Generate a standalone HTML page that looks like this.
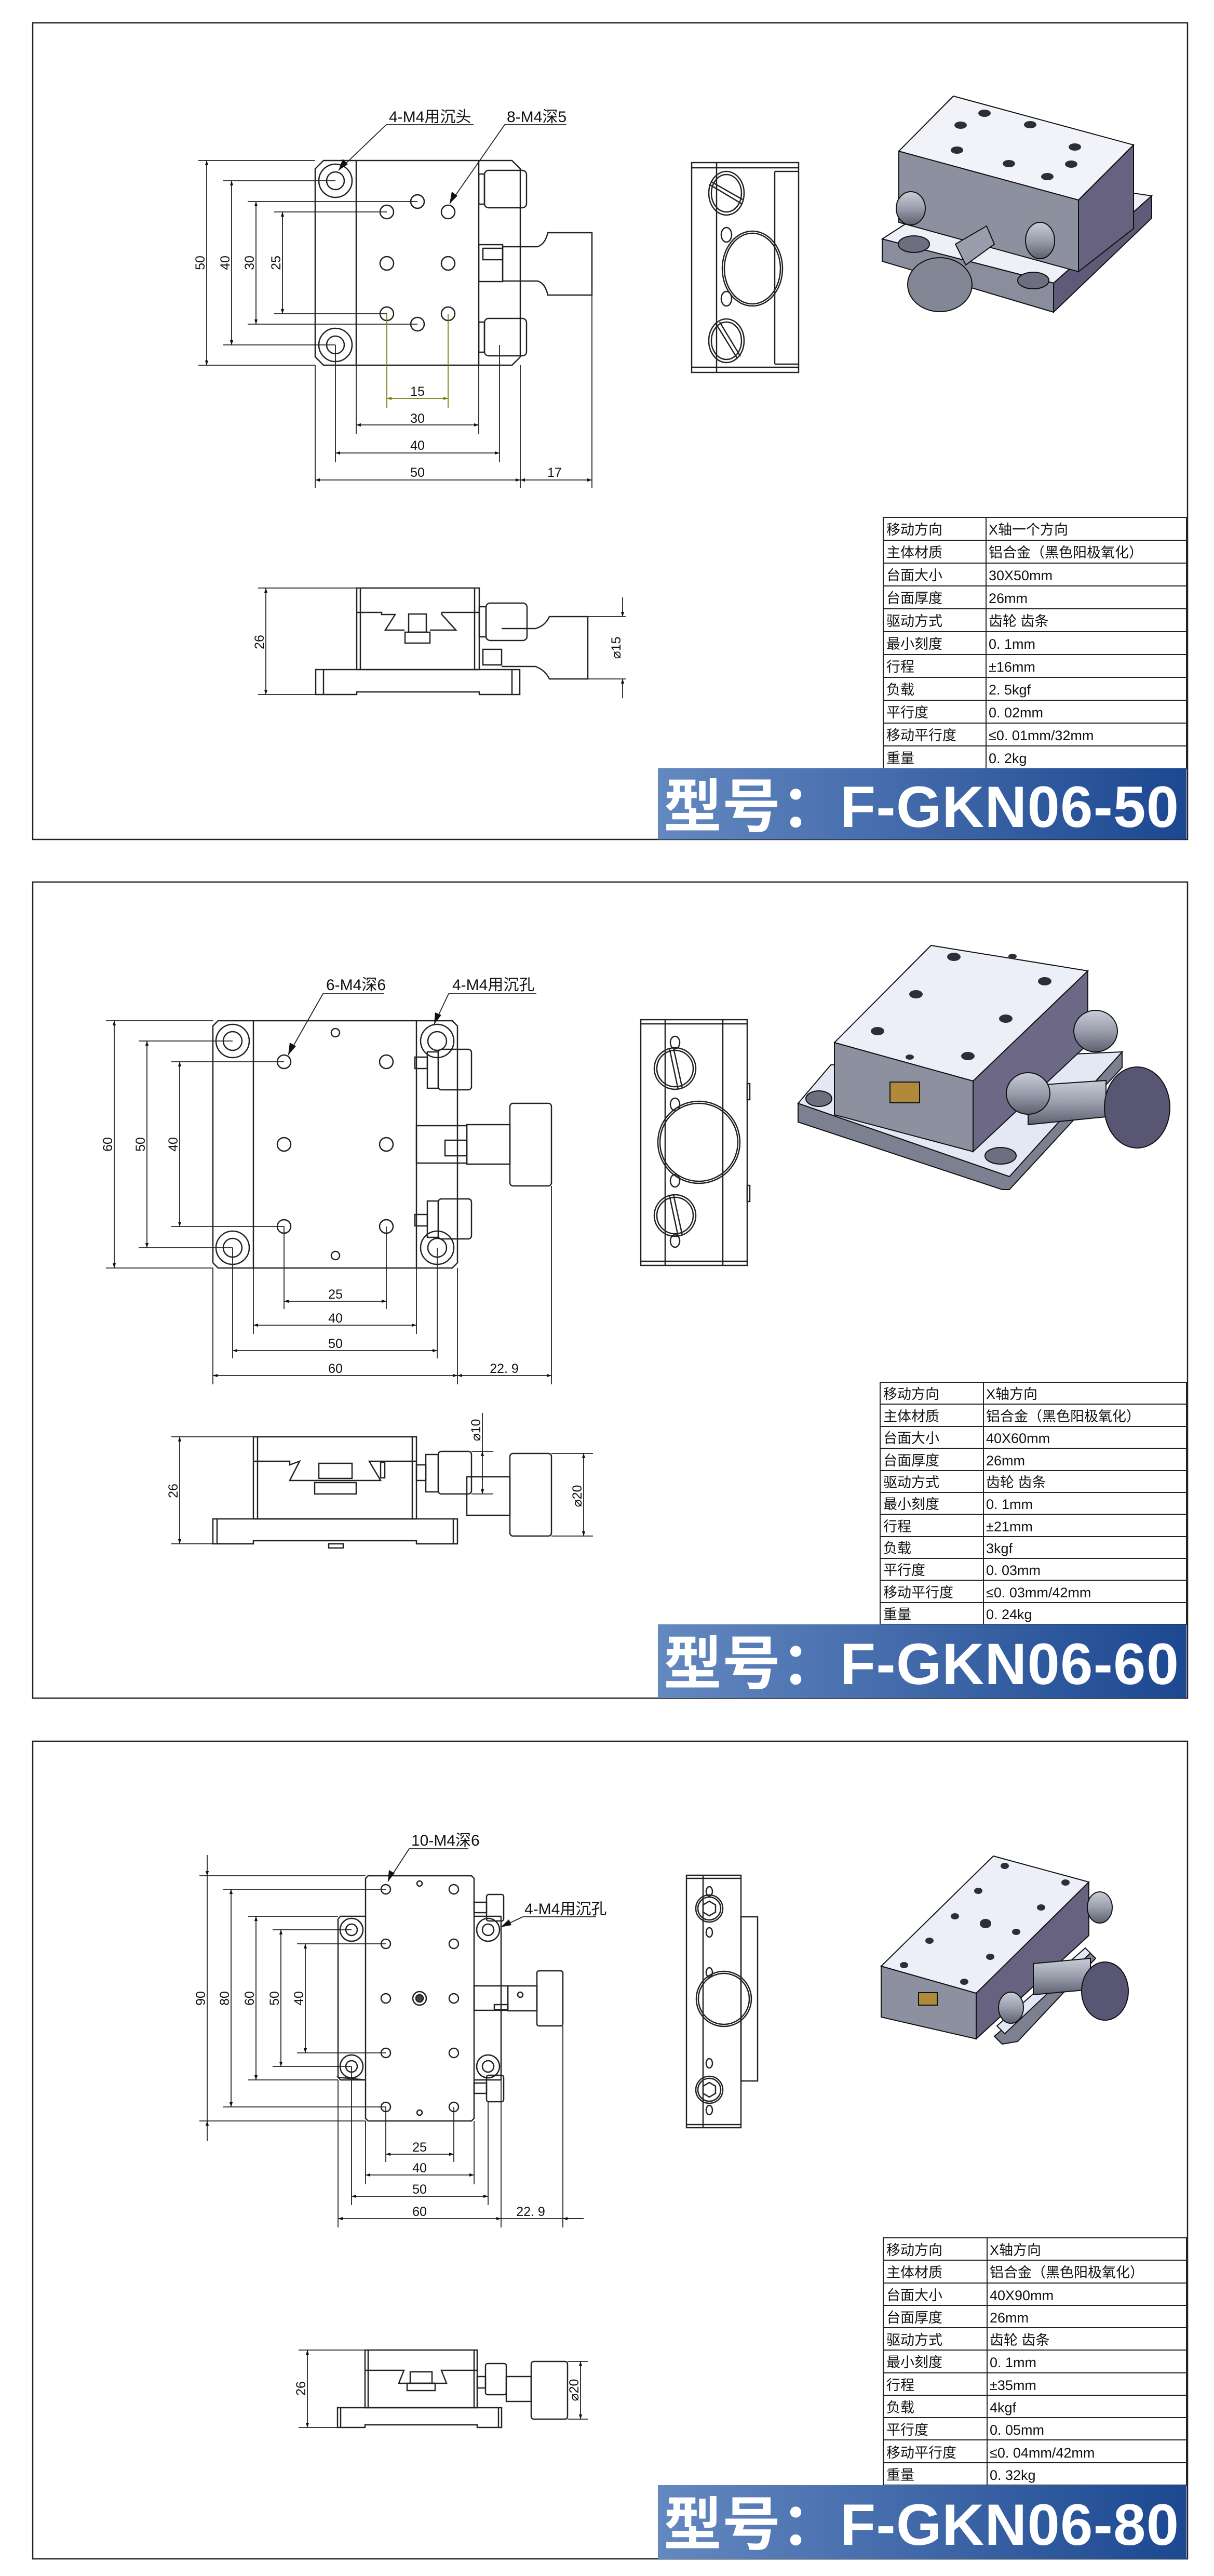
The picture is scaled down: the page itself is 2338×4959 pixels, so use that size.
<!DOCTYPE html>
<html><head><meta charset="utf-8"><style>
html,body{margin:0;padding:0;background:#fff}
svg{display:block}
text{font-family:"Liberation Sans","Noto Sans CJK SC",sans-serif}
.t{font-size:27px;fill:#111}
.d{font-size:25px;fill:#111}
.l{font-size:30px;fill:#111}
.b{font-size:112px;font-weight:bold;fill:#fff}
</style></head><body>
<svg width="2338" height="4959" viewBox="0 0 2338 4959" xmlns="http://www.w3.org/2000/svg">
<defs>
<marker id="a" viewBox="0 0 10 10" refX="10" refY="5" markerWidth="24" markerHeight="9" markerUnits="userSpaceOnUse" orient="auto-start-reverse"><path d="M0,1.5 L10,5 L0,8.5z" fill="#111"/></marker>
<marker id="o" viewBox="0 0 10 10" refX="10" refY="5" markerWidth="24" markerHeight="9" markerUnits="userSpaceOnUse" orient="auto-start-reverse"><path d="M0,1.5 L10,5 L0,8.5z" fill="#7a7a10"/></marker>
<linearGradient id="bg" x1="0" x2="1" y1="0" y2="0"><stop offset="0" stop-color="#6488c0"/><stop offset="1" stop-color="#1c4891"/></linearGradient>
<linearGradient id="kn" x1="0" x2="0" y1="0" y2="1"><stop offset="0" stop-color="#c8ccd6"/><stop offset="0.5" stop-color="#9a9eac"/><stop offset="1" stop-color="#5e6070"/></linearGradient>
</defs>
<g fill="none" stroke="#222" stroke-width="2.5">
<rect x="63" y="44" width="2224" height="1572"/>
<rect x="63" y="1698" width="2224" height="1571"/>
<rect x="63" y="3352" width="2224" height="1574"/>
</g>

<!-- ===================== PANEL 1 ===================== -->
<g fill="none" stroke="#222" stroke-width="2.5">
<path d="M607,325 L623,309 L986,309 L1002,325 L1002,687 L986,703 L623,703 L607,687 Z"/>
<line x1="686" y1="309" x2="686" y2="703"/><line x1="922" y1="309" x2="922" y2="703"/>
<circle cx="646" cy="348" r="32"/><circle cx="646" cy="348" r="17"/>
<circle cx="646" cy="664" r="32"/><circle cx="646" cy="664" r="17"/>
<circle cx="804" cy="388" r="13"/><circle cx="745" cy="408" r="13"/><circle cx="863" cy="408" r="13"/>
<circle cx="745" cy="507" r="13"/><circle cx="863" cy="507" r="13"/>
<circle cx="745" cy="604" r="13"/><circle cx="863" cy="604" r="13"/><circle cx="804" cy="624" r="13"/>
<rect x="922" y="335" width="11" height="58"/><rect x="933" y="328" width="81" height="72" rx="8"/>
<rect x="922" y="620" width="11" height="58"/><rect x="933" y="613" width="81" height="72" rx="8"/>
<rect x="922" y="471" width="46" height="71"/><rect x="930" y="478" width="38" height="22"/>
<path d="M968,475 L1035,475 Q1050,470 1055,448 L1140,448 L1140,568 L1055,568 Q1050,545 1035,541 L968,541 Z"/>
</g>
<g stroke="#222" stroke-width="1.8" fill="none">
<line x1="382" y1="309" x2="607" y2="309"/><line x1="382" y1="703" x2="607" y2="703"/>
<line x1="430" y1="348" x2="646" y2="348"/><line x1="430" y1="664" x2="646" y2="664"/>
<line x1="477" y1="388" x2="804" y2="388"/><line x1="477" y1="624" x2="804" y2="624"/>
<line x1="528" y1="408" x2="745" y2="408"/><line x1="528" y1="604" x2="745" y2="604"/>
<line x1="398" y1="309" x2="398" y2="703" marker-start="url(#a)" marker-end="url(#a)"/>
<line x1="446" y1="348" x2="446" y2="664" marker-start="url(#a)" marker-end="url(#a)"/>
<line x1="493" y1="388" x2="493" y2="624" marker-start="url(#a)" marker-end="url(#a)"/>
<line x1="544" y1="408" x2="544" y2="604" marker-start="url(#a)" marker-end="url(#a)"/>
<line x1="607" y1="703" x2="607" y2="940"/><line x1="1002" y1="703" x2="1002" y2="940"/>
<line x1="646" y1="664" x2="646" y2="890"/><line x1="962" y1="664" x2="962" y2="890"/>
<line x1="686" y1="703" x2="686" y2="835"/><line x1="922" y1="703" x2="922" y2="835"/>
<line x1="1140" y1="568" x2="1140" y2="940"/>
<line x1="607" y1="924" x2="1002" y2="924" marker-start="url(#a)" marker-end="url(#a)"/>
<line x1="646" y1="872" x2="962" y2="872" marker-start="url(#a)" marker-end="url(#a)"/>
<line x1="686" y1="818" x2="922" y2="818" marker-start="url(#a)" marker-end="url(#a)"/>
<line x1="1002" y1="924" x2="1140" y2="924" marker-start="url(#a)" marker-end="url(#a)"/>
<g stroke="#7a7a10"><line x1="745" y1="604" x2="745" y2="785"/><line x1="863" y1="604" x2="863" y2="785"/>
<line x1="745" y1="767" x2="863" y2="767" marker-start="url(#o)" marker-end="url(#o)"/></g>
<polyline points="912,240 744,240 652,328"/><polyline points="1091,240 972,240 866,392"/>
</g>
<path d="M652,328 l8,-22 l10,10z" fill="#111"/><path d="M866,392 l4,-23 l11,8z" fill="#111"/>
<g class="d">
<text transform="translate(394,506) rotate(-90)" text-anchor="middle">50</text>
<text transform="translate(442,506) rotate(-90)" text-anchor="middle">40</text>
<text transform="translate(489,506) rotate(-90)" text-anchor="middle">30</text>
<text transform="translate(540,506) rotate(-90)" text-anchor="middle">25</text>
<text x="804" y="762" text-anchor="middle">15</text>
<text x="804" y="814" text-anchor="middle">30</text>
<text x="804" y="866" text-anchor="middle">40</text>
<text x="804" y="918" text-anchor="middle">50</text>
<text x="1068" y="918" text-anchor="middle">17</text>
</g>
<text class="l" x="749" y="235">4-M4用沉头</text>
<text class="l" x="976" y="235">8-M4深5</text>

<g fill="none" stroke="#222" stroke-width="2.5">
<rect x="687" y="1132" width="236" height="157"/>
<line x1="694" y1="1132" x2="694" y2="1289"/><line x1="914" y1="1132" x2="914" y2="1289"/>
<path d="M608,1289 H1001 V1337 H923 V1332 H687 V1337 H608 Z"/>
<line x1="623" y1="1289" x2="623" y2="1337"/><line x1="986" y1="1289" x2="986" y2="1337"/>
<path d="M687,1179 H735 V1183 H761 L742,1213 H779 M828,1213 H878 L851,1183 V1179 H923"/>
<rect x="787" y="1182" width="34" height="35"/><rect x="780" y="1217" width="48" height="21"/>
<rect x="923" y="1168" width="13" height="58"/><rect x="936" y="1161" width="79" height="72" rx="8"/>
<rect x="930" y="1250" width="36" height="30"/>
<path d="M966,1210 H1031 Q1050,1205 1058,1187 H1132 V1307 H1058 Q1050,1290 1031,1283 H966"/>
</g>
<g stroke="#222" stroke-width="1.8" fill="none">
<line x1="497" y1="1132" x2="687" y2="1132"/><line x1="497" y1="1337" x2="608" y2="1337"/>
<line x1="512" y1="1132" x2="512" y2="1337" marker-start="url(#a)" marker-end="url(#a)"/>
<line x1="1132" y1="1187" x2="1205" y2="1187"/><line x1="1132" y1="1307" x2="1205" y2="1307"/>
<line x1="1199" y1="1150" x2="1199" y2="1187" marker-end="url(#a)"/><line x1="1199" y1="1344" x2="1199" y2="1307" marker-end="url(#a)"/>
</g>
<text class="d" transform="translate(508,1236) rotate(-90)" text-anchor="middle">26</text>
<text class="d" transform="translate(1195,1247) rotate(-90)" text-anchor="middle">⌀15</text>

<g fill="none" stroke="#222" stroke-width="2.5">
<rect x="1332" y="313" width="206" height="404"/>
<line x1="1380" y1="313" x2="1380" y2="717"/><line x1="1492" y1="330" x2="1492" y2="701"/>
<line x1="1332" y1="323" x2="1538" y2="323"/><line x1="1492" y1="330" x2="1538" y2="330"/>
<line x1="1332" y1="707" x2="1538" y2="707"/><line x1="1492" y1="701" x2="1538" y2="701"/>
<ellipse cx="1449" cy="517" rx="58" ry="72"/><ellipse cx="1449" cy="517" rx="54" ry="68"/>
<ellipse cx="1399" cy="372" rx="34" ry="42"/><ellipse cx="1399" cy="372" rx="29" ry="36"/>
<line x1="1366" y1="355" x2="1428" y2="392"/><line x1="1370" y1="350" x2="1430" y2="384"/>
<ellipse cx="1399" cy="656" rx="34" ry="42"/><ellipse cx="1399" cy="656" rx="29" ry="36"/>
<line x1="1378" y1="622" x2="1420" y2="690"/><line x1="1386" y1="620" x2="1426" y2="686"/>
<ellipse cx="1399" cy="452" rx="10" ry="14"/><ellipse cx="1399" cy="575" rx="10" ry="14"/>
</g>
<!-- p1 3D -->
<g stroke="#111" stroke-width="2">
<path d="M1699,460 L1900,330 L2218,377 L2029,545 Z" fill="#eef0f7"/>
<path d="M1699,460 L2029,545 L2029,601 L1699,503 Z" fill="#8a8d9c"/>
<path d="M2029,545 L2218,377 L2218,420 L2029,601 Z" fill="#5e5a78"/>
<ellipse cx="1760" cy="470" rx="30" ry="16" fill="#6d6e80"/><ellipse cx="1990" cy="540" rx="30" ry="16" fill="#6d6e80"/>
<path d="M1731,291 L2077,385 L2077,523 L1731,428 Z" fill="#8c909f"/>
<path d="M2077,385 L2183,279 L2183,440 L2077,523 Z" fill="#66627f"/>
<path d="M1836,185 L2183,279 L2077,385 L1731,291 Z" fill="#f2f3f8"/>
<ellipse cx="1754" cy="401" rx="28" ry="32" fill="url(#kn)"/>
<ellipse cx="2003" cy="463" rx="28" ry="35" fill="url(#kn)"/>
<path d="M1840,470 L1900,435 L1915,470 L1860,510 Z" fill="#9a9eac"/>
<ellipse cx="1810" cy="548" rx="62" ry="52" fill="#838694"/>
</g>
<g fill="#2c2e38">
<ellipse cx="1896" cy="218" rx="12" ry="7"/><ellipse cx="1850" cy="241" rx="12" ry="7"/><ellipse cx="1984" cy="240" rx="12" ry="7"/>
<ellipse cx="1843" cy="289" rx="12" ry="7"/><ellipse cx="2070" cy="283" rx="12" ry="7"/><ellipse cx="1943" cy="315" rx="12" ry="7"/>
<ellipse cx="2063" cy="316" rx="12" ry="7"/><ellipse cx="2017" cy="340" rx="12" ry="7"/>
</g>

<g stroke="#222" stroke-width="2" fill="none">
<rect x="1701" y="996" width="584" height="484"/>
<line x1="1899" y1="996" x2="1899" y2="1480"/>
<line x1="1701" y1="1040" x2="2285" y2="1040"/><line x1="1701" y1="1084" x2="2285" y2="1084"/><line x1="1701" y1="1128" x2="2285" y2="1128"/><line x1="1701" y1="1172" x2="2285" y2="1172"/><line x1="1701" y1="1216" x2="2285" y2="1216"/><line x1="1701" y1="1260" x2="2285" y2="1260"/><line x1="1701" y1="1304" x2="2285" y2="1304"/><line x1="1701" y1="1348" x2="2285" y2="1348"/><line x1="1701" y1="1392" x2="2285" y2="1392"/><line x1="1701" y1="1436" x2="2285" y2="1436"/>
</g>
<g class="t">
<text x="1707" y="1029">移动方向</text><text x="1904" y="1029">X轴一个方向</text>
<text x="1707" y="1073">主体材质</text><text x="1904" y="1073">铝合金（黑色阳极氧化）</text>
<text x="1707" y="1117">台面大小</text><text x="1904" y="1117">30X50mm</text>
<text x="1707" y="1161">台面厚度</text><text x="1904" y="1161">26mm</text>
<text x="1707" y="1205">驱动方式</text><text x="1904" y="1205">齿轮 齿条</text>
<text x="1707" y="1249">最小刻度</text><text x="1904" y="1249">0. 1mm</text>
<text x="1707" y="1293">行程</text><text x="1904" y="1293">±16mm</text>
<text x="1707" y="1337">负载</text><text x="1904" y="1337">2. 5kgf</text>
<text x="1707" y="1381">平行度</text><text x="1904" y="1381">0. 02mm</text>
<text x="1707" y="1425">移动平行度</text><text x="1904" y="1425">≤0. 01mm/32mm</text>
<text x="1707" y="1469">重量</text><text x="1904" y="1469">0. 2kg</text>
</g>
<rect x="1267" y="1479" width="1018" height="137" fill="url(#bg)"/>
<text class="b" x="1278" y="1592" textLength="992" lengthAdjust="spacing">型号：F-GKN06-50</text>

<!-- ===================== PANEL 2 ===================== -->
<g fill="none" stroke="#222" stroke-width="2.5">
<path d="M410,1975 L420,1965 L871,1965 L881,1975 L881,2431 L871,2441 L420,2441 L410,2431 Z"/>
<line x1="488" y1="1965" x2="488" y2="2441"/><line x1="802" y1="1965" x2="802" y2="2441"/>
<circle cx="448" cy="2004" r="32"/><circle cx="448" cy="2004" r="18"/>
<circle cx="448" cy="2402" r="32"/><circle cx="448" cy="2402" r="18"/>
<circle cx="842" cy="2004" r="32"/><circle cx="842" cy="2004" r="18"/>
<circle cx="842" cy="2402" r="32"/><circle cx="842" cy="2402" r="18"/>
<circle cx="547" cy="2044" r="13"/><circle cx="744" cy="2044" r="13"/>
<circle cx="547" cy="2203" r="13"/><circle cx="744" cy="2203" r="13"/>
<circle cx="547" cy="2361" r="13"/><circle cx="744" cy="2361" r="13"/>
<circle cx="646" cy="1988" r="8"/><circle cx="646" cy="2417" r="8"/>
<rect x="799" y="2035" width="24" height="22"/><rect x="823" y="2025" width="21" height="70"/><rect x="844" y="2020" width="64" height="78" rx="6"/>
<rect x="799" y="2338" width="24" height="22"/><rect x="823" y="2312" width="21" height="70"/><rect x="844" y="2308" width="64" height="77" rx="6"/>
<rect x="802" y="2167" width="97" height="72"/><rect x="857" y="2195" width="42" height="30"/>
<rect x="899" y="2165" width="83" height="76"/>
<rect x="982" y="2124" width="80" height="159" rx="6"/>
</g>
<g stroke="#222" stroke-width="1.8" fill="none">
<line x1="204" y1="1965" x2="410" y2="1965"/><line x1="204" y1="2441" x2="410" y2="2441"/>
<line x1="267" y1="2004" x2="448" y2="2004"/><line x1="267" y1="2402" x2="448" y2="2402"/>
<line x1="330" y1="2044" x2="547" y2="2044"/><line x1="330" y1="2361" x2="547" y2="2361"/>
<line x1="220" y1="1965" x2="220" y2="2441" marker-start="url(#a)" marker-end="url(#a)"/>
<line x1="283" y1="2004" x2="283" y2="2402" marker-start="url(#a)" marker-end="url(#a)"/>
<line x1="346" y1="2044" x2="346" y2="2361" marker-start="url(#a)" marker-end="url(#a)"/>
<line x1="410" y1="2441" x2="410" y2="2665"/><line x1="881" y1="2441" x2="881" y2="2665"/>
<line x1="448" y1="2402" x2="448" y2="2615"/><line x1="842" y1="2402" x2="842" y2="2615"/>
<line x1="488" y1="2441" x2="488" y2="2568"/><line x1="802" y1="2441" x2="802" y2="2568"/>
<line x1="547" y1="2361" x2="547" y2="2520"/><line x1="744" y1="2361" x2="744" y2="2520"/>
<line x1="1062" y1="2283" x2="1062" y2="2665"/>
<line x1="547" y1="2505" x2="744" y2="2505" marker-start="url(#a)" marker-end="url(#a)"/>
<line x1="488" y1="2551" x2="802" y2="2551" marker-start="url(#a)" marker-end="url(#a)"/>
<line x1="448" y1="2600" x2="842" y2="2600" marker-start="url(#a)" marker-end="url(#a)"/>
<line x1="410" y1="2648" x2="881" y2="2648" marker-start="url(#a)" marker-end="url(#a)"/>
<line x1="881" y1="2648" x2="1062" y2="2648" marker-start="url(#a)" marker-end="url(#a)"/>
<polyline points="740,1913 622,1913 555,2031"/><polyline points="1033,1913 864,1913 836,1972"/>
</g>
<path d="M555,2031 l3,-24 l12,7z" fill="#111"/><path d="M836,1972 l2,-23 l12,5z" fill="#111"/>
<g class="d">
<text transform="translate(216,2203) rotate(-90)" text-anchor="middle">60</text>
<text transform="translate(279,2203) rotate(-90)" text-anchor="middle">50</text>
<text transform="translate(342,2203) rotate(-90)" text-anchor="middle">40</text>
<text x="646" y="2500" text-anchor="middle">25</text>
<text x="646" y="2546" text-anchor="middle">40</text>
<text x="646" y="2595" text-anchor="middle">50</text>
<text x="646" y="2643" text-anchor="middle">60</text>
<text x="971" y="2643" text-anchor="middle">22. 9</text>
</g>
<text class="l" x="628" y="1906">6-M4深6</text>
<text class="l" x="871" y="1906">4-M4用沉孔</text>

<g fill="none" stroke="#222" stroke-width="2.5">
<rect x="488" y="2766" width="314" height="158"/>
<line x1="496" y1="2766" x2="496" y2="2924"/><line x1="794" y1="2766" x2="794" y2="2924"/>
<path d="M410,2924 H881 V2972 H802 V2966 H488 V2972 H410 Z"/>
<line x1="418" y1="2924" x2="418" y2="2972"/><line x1="873" y1="2924" x2="873" y2="2972"/>
<path d="M488,2813 H558 L558,2820 L577,2813 L558,2850 H733 L711,2813 H802"/>
<rect x="614" y="2817" width="64" height="29"/><rect x="606" y="2854" width="80" height="22"/>
<rect x="733" y="2815" width="8" height="30"/>
<rect x="802" y="2820" width="18" height="30"/><rect x="820" y="2800" width="24" height="72"/>
<rect x="844" y="2794" width="64" height="82" rx="6"/>
<rect x="899" y="2843" width="83" height="74"/>
<rect x="982" y="2798" width="80" height="159" rx="6"/>
<rect x="633" y="2972" width="28" height="8"/>
</g>
<g stroke="#222" stroke-width="1.8" fill="none">
<line x1="330" y1="2766" x2="488" y2="2766"/><line x1="330" y1="2972" x2="410" y2="2972"/>
<line x1="346" y1="2766" x2="346" y2="2972" marker-start="url(#a)" marker-end="url(#a)"/>
<line x1="908" y1="2794" x2="950" y2="2794"/><line x1="908" y1="2876" x2="950" y2="2876"/>
<line x1="929" y1="2794" x2="929" y2="2876" marker-start="url(#a)" marker-end="url(#a)"/>
<line x1="929" y1="2720" x2="929" y2="2794"/>
<line x1="1062" y1="2798" x2="1142" y2="2798"/><line x1="1062" y1="2957" x2="1142" y2="2957"/>
<line x1="1124" y1="2798" x2="1124" y2="2957" marker-start="url(#a)" marker-end="url(#a)"/>
</g>
<text class="d" transform="translate(342,2870) rotate(-90)" text-anchor="middle">26</text>
<text class="d" transform="translate(925,2753) rotate(-90)" text-anchor="middle">⌀10</text>
<text class="d" transform="translate(1120,2880) rotate(-90)" text-anchor="middle">⌀20</text>

<g fill="none" stroke="#222" stroke-width="2.5">
<rect x="1234" y="1963" width="205" height="473"/>
<line x1="1281" y1="1963" x2="1281" y2="2436"/><line x1="1392" y1="1963" x2="1392" y2="2436"/>
<line x1="1234" y1="1971" x2="1439" y2="1971"/><line x1="1234" y1="2428" x2="1439" y2="2428"/>
<circle cx="1346" cy="2199" r="79"/><circle cx="1346" cy="2199" r="75"/>
<circle cx="1300" cy="2057" r="40"/><circle cx="1300" cy="2057" r="35"/>
<line x1="1289" y1="2017" x2="1306" y2="2097"/><line x1="1297" y1="2017" x2="1314" y2="2095"/>
<circle cx="1300" cy="2340" r="40"/><circle cx="1300" cy="2340" r="35"/>
<line x1="1289" y1="2300" x2="1306" y2="2380"/><line x1="1297" y1="2300" x2="1314" y2="2378"/>
<ellipse cx="1300" cy="2007" rx="9" ry="12"/><ellipse cx="1300" cy="2389" rx="9" ry="12"/>
<ellipse cx="1300" cy="2126" rx="9" ry="12"/><ellipse cx="1300" cy="2273" rx="9" ry="12"/>
<rect x="1439" y="2086" width="5" height="31"/><rect x="1439" y="2282" width="5" height="31"/>
</g>
<g stroke="#111" stroke-width="2">
<path d="M1537,2124 L1537,2160 L1930,2290 L1944,2290 L2161,2055 L2161,2025 L1944,2265 L1537,2124 Z" fill="#7d8090"/>
<path d="M1537,2124 L1600,2050 L2161,2025 L1944,2265 Z" fill="#e4e8f4"/>
<path d="M1607,2007 L1874,2081 L1874,2217 L1607,2146 Z" fill="#8c909f"/>
<path d="M1874,2081 L2095,1869 L2095,2010 L1874,2217 Z" fill="#6c6886"/>
<path d="M1793,1820 L2095,1869 L1874,2081 L1607,2007 Z" fill="#eceef8"/>
<rect x="1714" y="2083" width="57" height="40" fill="#b08a3a"/>
<path d="M1980,2090 L2130,2080 L2130,2150 L1980,2165 Z" fill="url(#kn)"/>
<ellipse cx="2110" cy="1985" rx="42" ry="40" fill="url(#kn)"/>
<ellipse cx="1980" cy="2105" rx="42" ry="40" fill="url(#kn)"/>
<ellipse cx="2190" cy="2132" rx="63" ry="78" fill="#585672"/>
<ellipse cx="1927" cy="2225" rx="30" ry="16" fill="#6d6e80"/><ellipse cx="1577" cy="2115" rx="25" ry="15" fill="#6d6e80"/>
</g>
<g fill="#2c2e38">
<ellipse cx="1837" cy="1842" rx="13" ry="8"/><ellipse cx="1950" cy="1841" rx="8" ry="5"/><ellipse cx="2012" cy="1889" rx="13" ry="8"/>
<ellipse cx="1764" cy="1914" rx="13" ry="8"/><ellipse cx="1937" cy="1961" rx="13" ry="8"/><ellipse cx="1690" cy="1985" rx="13" ry="8"/>
<ellipse cx="1864" cy="2033" rx="13" ry="8"/><ellipse cx="1752" cy="2035" rx="8" ry="5"/>
</g>

<g stroke="#222" stroke-width="2" fill="none">
<rect x="1695" y="2661" width="590" height="466"/>
<line x1="1894" y1="2661" x2="1894" y2="3127"/>
<line x1="1695" y1="2703" x2="2285" y2="2703"/><line x1="1695" y1="2746" x2="2285" y2="2746"/><line x1="1695" y1="2788" x2="2285" y2="2788"/><line x1="1695" y1="2831" x2="2285" y2="2831"/><line x1="1695" y1="2873" x2="2285" y2="2873"/><line x1="1695" y1="2915" x2="2285" y2="2915"/><line x1="1695" y1="2958" x2="2285" y2="2958"/><line x1="1695" y1="3000" x2="2285" y2="3000"/><line x1="1695" y1="3042" x2="2285" y2="3042"/><line x1="1695" y1="3085" x2="2285" y2="3085"/>
</g>
<g class="t">
<text x="1701" y="2693">移动方向</text><text x="1899" y="2693">X轴方向</text>
<text x="1701" y="2736">主体材质</text><text x="1899" y="2736">铝合金（黑色阳极氧化）</text>
<text x="1701" y="2778">台面大小</text><text x="1899" y="2778">40X60mm</text>
<text x="1701" y="2821">台面厚度</text><text x="1899" y="2821">26mm</text>
<text x="1701" y="2863">驱动方式</text><text x="1899" y="2863">齿轮 齿条</text>
<text x="1701" y="2905">最小刻度</text><text x="1899" y="2905">0. 1mm</text>
<text x="1701" y="2948">行程</text><text x="1899" y="2948">±21mm</text>
<text x="1701" y="2990">负载</text><text x="1899" y="2990">3kgf</text>
<text x="1701" y="3032">平行度</text><text x="1899" y="3032">0. 03mm</text>
<text x="1701" y="3075">移动平行度</text><text x="1899" y="3075">≤0. 03mm/42mm</text>
<text x="1701" y="3117">重量</text><text x="1899" y="3117">0. 24kg</text>
</g>
<rect x="1267" y="3127" width="1018" height="142" fill="url(#bg)"/>
<text class="b" x="1278" y="3242" textLength="992" lengthAdjust="spacing">型号：F-GKN06-60</text>

<!-- ===================== PANEL 3 ===================== -->
<g fill="none" stroke="#222" stroke-width="2.5">
<path d="M651,3694 L656,3689 L704,3689 M704,4004 L656,4004 L651,3999 Z M651,3694 L651,3999"/>
<path d="M704,3616 L709,3611 L908,3611 L913,3616 L913,4078 L908,4083 L709,4083 L704,4078 Z"/>
<line x1="913" y1="3689" x2="965" y2="3689"/><line x1="965" y1="3689" x2="965" y2="4004"/><line x1="913" y1="4004" x2="965" y2="4004"/>
<circle cx="677" cy="3715" r="22"/><circle cx="677" cy="3715" r="11"/>
<circle cx="677" cy="3978" r="22"/><circle cx="677" cy="3978" r="11"/>
<circle cx="940" cy="3715" r="22"/><circle cx="940" cy="3715" r="11"/>
<circle cx="940" cy="3978" r="22"/><circle cx="940" cy="3978" r="11"/>
<circle cx="743" cy="3637" r="9"/><circle cx="874" cy="3637" r="9"/>
<circle cx="743" cy="3742" r="9"/><circle cx="874" cy="3742" r="9"/>
<circle cx="743" cy="3847" r="9"/><circle cx="874" cy="3847" r="9"/>
<circle cx="743" cy="3952" r="9"/><circle cx="874" cy="3952" r="9"/>
<circle cx="743" cy="4056" r="9"/><circle cx="874" cy="4056" r="9"/>
<circle cx="808" cy="3626" r="5"/><circle cx="808" cy="4067" r="5"/>
<circle cx="808" cy="3847" r="13"/><circle cx="808" cy="3847" r="7" fill="#444"/>
<rect x="913" y="3662" width="24" height="20"/><rect x="937" y="3647" width="33" height="51" rx="4"/>
<rect x="913" y="4010" width="24" height="20"/><rect x="937" y="3995" width="33" height="51" rx="4"/>
<rect x="913" y="3823" width="65" height="47"/><rect x="952" y="3859" width="26" height="10"/>
<rect x="978" y="3823" width="56" height="48"/><circle cx="1002" cy="3840" r="5"/>
<rect x="1034" y="3794" width="50" height="106" rx="4"/>
</g>
<g stroke="#222" stroke-width="1.8" fill="none">
<line x1="384" y1="3611" x2="704" y2="3611"/><line x1="384" y1="4083" x2="704" y2="4083"/>
<line x1="430" y1="3637" x2="743" y2="3637"/><line x1="430" y1="4056" x2="743" y2="4056"/>
<line x1="478" y1="3689" x2="651" y2="3689"/><line x1="478" y1="4004" x2="651" y2="4004"/>
<line x1="525" y1="3715" x2="677" y2="3715"/><line x1="525" y1="3978" x2="677" y2="3978"/>
<line x1="572" y1="3742" x2="743" y2="3742"/><line x1="572" y1="3952" x2="743" y2="3952"/>
<line x1="399" y1="3571" x2="399" y2="3611" marker-end="url(#a)"/><line x1="399" y1="4122" x2="399" y2="4083" marker-end="url(#a)"/>
<line x1="399" y1="3611" x2="399" y2="4083"/>
<line x1="445" y1="3637" x2="445" y2="4056" marker-start="url(#a)" marker-end="url(#a)"/>
<line x1="493" y1="3689" x2="493" y2="4004" marker-start="url(#a)" marker-end="url(#a)"/>
<line x1="541" y1="3715" x2="541" y2="3978" marker-start="url(#a)" marker-end="url(#a)"/>
<line x1="588" y1="3742" x2="588" y2="3952" marker-start="url(#a)" marker-end="url(#a)"/>
<line x1="651" y1="4004" x2="651" y2="4288"/><line x1="965" y1="4004" x2="965" y2="4288"/>
<line x1="677" y1="3978" x2="677" y2="4245"/><line x1="940" y1="4046" x2="940" y2="4245"/>
<line x1="704" y1="4083" x2="704" y2="4205"/><line x1="913" y1="4083" x2="913" y2="4205"/>
<line x1="743" y1="4056" x2="743" y2="4162"/><line x1="874" y1="4056" x2="874" y2="4162"/>
<line x1="1084" y1="3900" x2="1084" y2="4288"/>
<line x1="743" y1="4147" x2="874" y2="4147" marker-start="url(#a)" marker-end="url(#a)"/>
<line x1="704" y1="4187" x2="913" y2="4187" marker-start="url(#a)" marker-end="url(#a)"/>
<line x1="677" y1="4228" x2="940" y2="4228" marker-start="url(#a)" marker-end="url(#a)"/>
<line x1="651" y1="4271" x2="965" y2="4271" marker-start="url(#a)" marker-end="url(#a)"/>
<line x1="965" y1="4271" x2="1124" y2="4271"/><line x1="1124" y1="4271" x2="1084" y2="4271" marker-end="url(#a)"/>
<polyline points="902,3559 788,3559 747,3622"/><polyline points="1148,3690 1007,3690 964,3710"/>
</g>
<path d="M747,3622 l2,-22 l11,6z" fill="#111"/><path d="M964,3710 l16,-15 l5,11z" fill="#111"/>
<g class="d">
<text transform="translate(395,3847) rotate(-90)" text-anchor="middle">90</text>
<text transform="translate(441,3847) rotate(-90)" text-anchor="middle">80</text>
<text transform="translate(489,3847) rotate(-90)" text-anchor="middle">60</text>
<text transform="translate(537,3847) rotate(-90)" text-anchor="middle">50</text>
<text transform="translate(584,3847) rotate(-90)" text-anchor="middle">40</text>
<text x="808" y="4142" text-anchor="middle">25</text>
<text x="808" y="4182" text-anchor="middle">40</text>
<text x="808" y="4223" text-anchor="middle">50</text>
<text x="808" y="4266" text-anchor="middle">60</text>
<text x="1022" y="4266" text-anchor="middle">22. 9</text>
</g>
<text class="l" x="792" y="3553">10-M4深6</text>
<text class="l" x="1010" y="3685">4-M4用沉孔</text>

<g fill="none" stroke="#222" stroke-width="2.5">
<rect x="703" y="4524" width="216" height="111"/>
<line x1="709" y1="4524" x2="709" y2="4635"/><line x1="913" y1="4524" x2="913" y2="4635"/>
<path d="M650,4635 H966 V4673 H919 V4668 H703 V4673 H650 Z"/>
<line x1="656" y1="4635" x2="656" y2="4673"/><line x1="960" y1="4635" x2="960" y2="4673"/>
<path d="M703,4563 H765 L778,4563 L768,4588 H860 L850,4563 H919"/>
<rect x="790" y="4566" width="42" height="22"/><rect x="784" y="4588" width="54" height="14"/>
<rect x="919" y="4575" width="16" height="22"/><rect x="935" y="4550" width="40" height="60" rx="4"/>
<rect x="975" y="4575" width="48" height="48"/>
<rect x="1023" y="4546" width="70" height="111" rx="5"/>
</g>
<g stroke="#222" stroke-width="1.8" fill="none">
<line x1="575" y1="4524" x2="703" y2="4524"/><line x1="575" y1="4673" x2="650" y2="4673"/>
<line x1="592" y1="4524" x2="592" y2="4673" marker-start="url(#a)" marker-end="url(#a)"/>
<line x1="1093" y1="4546" x2="1132" y2="4546"/><line x1="1093" y1="4657" x2="1132" y2="4657"/>
<line x1="1118" y1="4546" x2="1118" y2="4657" marker-start="url(#a)" marker-end="url(#a)"/>
</g>
<text class="d" transform="translate(588,4598) rotate(-90)" text-anchor="middle">26</text>
<text class="d" transform="translate(1114,4601) rotate(-90)" text-anchor="middle">⌀20</text>

<g fill="none" stroke="#222" stroke-width="2.5">
<rect x="1322" y="3610" width="105" height="486"/>
<line x1="1354" y1="3610" x2="1354" y2="4096"/>
<line x1="1322" y1="3616" x2="1427" y2="3616"/><line x1="1322" y1="4090" x2="1427" y2="4090"/>
<rect x="1427" y="3690" width="32" height="316"/>
<circle cx="1394" cy="3848" r="53"/><circle cx="1394" cy="3848" r="49"/>
<circle cx="1366" cy="3674" r="26"/><circle cx="1366" cy="3674" r="22"/><path d="M1366,3660 l12,7 v14 l-12,7 l-12,-7 v-14z"/>
<circle cx="1366" cy="4023" r="26"/><circle cx="1366" cy="4023" r="22"/><path d="M1366,4009 l12,7 v14 l-12,7 l-12,-7 v-14z"/>
<ellipse cx="1366" cy="3641" rx="6" ry="9"/><ellipse cx="1366" cy="3720" rx="6" ry="9"/>
<ellipse cx="1366" cy="3797" rx="6" ry="9"/><ellipse cx="1366" cy="3972" rx="6" ry="9"/><ellipse cx="1366" cy="4062" rx="6" ry="9"/>
</g>
<g stroke="#111" stroke-width="2">
<path d="M1915,3920 L2100,3760 L2110,3770 L1960,3930 L1930,3935 Z" fill="#7d8090"/>
<path d="M1920,3900 L2090,3750 L2100,3760 L1935,3915 Z" fill="#e4e8f4"/>
<path d="M1697,3785 L1880,3837 L1880,3925 L1697,3883 Z" fill="#8c909f"/>
<path d="M1880,3837 L2097,3623 L2097,3726 L1880,3925 Z" fill="#66627f"/>
<path d="M1913,3573 L2097,3623 L1880,3837 L1697,3785 Z" fill="#eceef8"/>
<rect x="1769" y="3836" width="36" height="24" fill="#b08a3a"/>
<path d="M1990,3780 L2100,3770 L2100,3830 L1990,3840 Z" fill="url(#kn)"/>
<ellipse cx="2118" cy="3672" rx="24" ry="30" fill="url(#kn)"/>
<ellipse cx="1947" cy="3865" rx="24" ry="30" fill="url(#kn)"/>
<ellipse cx="2128" cy="3833" rx="45" ry="56" fill="#585672"/>
</g>
<g fill="#2c2e38">
<ellipse cx="1935" cy="3592" rx="8" ry="6"/><ellipse cx="2052" cy="3624" rx="8" ry="6"/><ellipse cx="1884" cy="3640" rx="8" ry="6"/>
<ellipse cx="2005" cy="3672" rx="8" ry="6"/><ellipse cx="1839" cy="3689" rx="8" ry="6"/><ellipse cx="1898" cy="3703" rx="11" ry="9"/>
<ellipse cx="1957" cy="3719" rx="8" ry="6"/><ellipse cx="1790" cy="3736" rx="8" ry="6"/><ellipse cx="1907" cy="3767" rx="8" ry="6"/>
<ellipse cx="1741" cy="3783" rx="8" ry="6"/><ellipse cx="1857" cy="3815" rx="8" ry="6"/>
</g>

<g stroke="#222" stroke-width="2" fill="none">
<rect x="1701" y="4308" width="584" height="476"/>
<line x1="1901" y1="4308" x2="1901" y2="4784"/>
<line x1="1701" y1="4351" x2="2285" y2="4351"/><line x1="1701" y1="4395" x2="2285" y2="4395"/><line x1="1701" y1="4438" x2="2285" y2="4438"/><line x1="1701" y1="4481" x2="2285" y2="4481"/><line x1="1701" y1="4524" x2="2285" y2="4524"/><line x1="1701" y1="4568" x2="2285" y2="4568"/><line x1="1701" y1="4611" x2="2285" y2="4611"/><line x1="1701" y1="4654" x2="2285" y2="4654"/><line x1="1701" y1="4697" x2="2285" y2="4697"/><line x1="1701" y1="4741" x2="2285" y2="4741"/>
</g>
<g class="t">
<text x="1707" y="4341">移动方向</text><text x="1906" y="4341">X轴方向</text>
<text x="1707" y="4384">主体材质</text><text x="1906" y="4384">铝合金（黑色阳极氧化）</text>
<text x="1707" y="4428">台面大小</text><text x="1906" y="4428">40X90mm</text>
<text x="1707" y="4471">台面厚度</text><text x="1906" y="4471">26mm</text>
<text x="1707" y="4514">驱动方式</text><text x="1906" y="4514">齿轮 齿条</text>
<text x="1707" y="4557">最小刻度</text><text x="1906" y="4557">0. 1mm</text>
<text x="1707" y="4601">行程</text><text x="1906" y="4601">±35mm</text>
<text x="1707" y="4644">负载</text><text x="1906" y="4644">4kgf</text>
<text x="1707" y="4687">平行度</text><text x="1906" y="4687">0. 05mm</text>
<text x="1707" y="4731">移动平行度</text><text x="1906" y="4731">≤0. 04mm/42mm</text>
<text x="1707" y="4774">重量</text><text x="1906" y="4774">0. 32kg</text>
</g>
<rect x="1267" y="4784" width="1018" height="142" fill="url(#bg)"/>
<text class="b" x="1278" y="4899" textLength="992" lengthAdjust="spacing">型号：F-GKN06-80</text>
</svg>
</body></html>
